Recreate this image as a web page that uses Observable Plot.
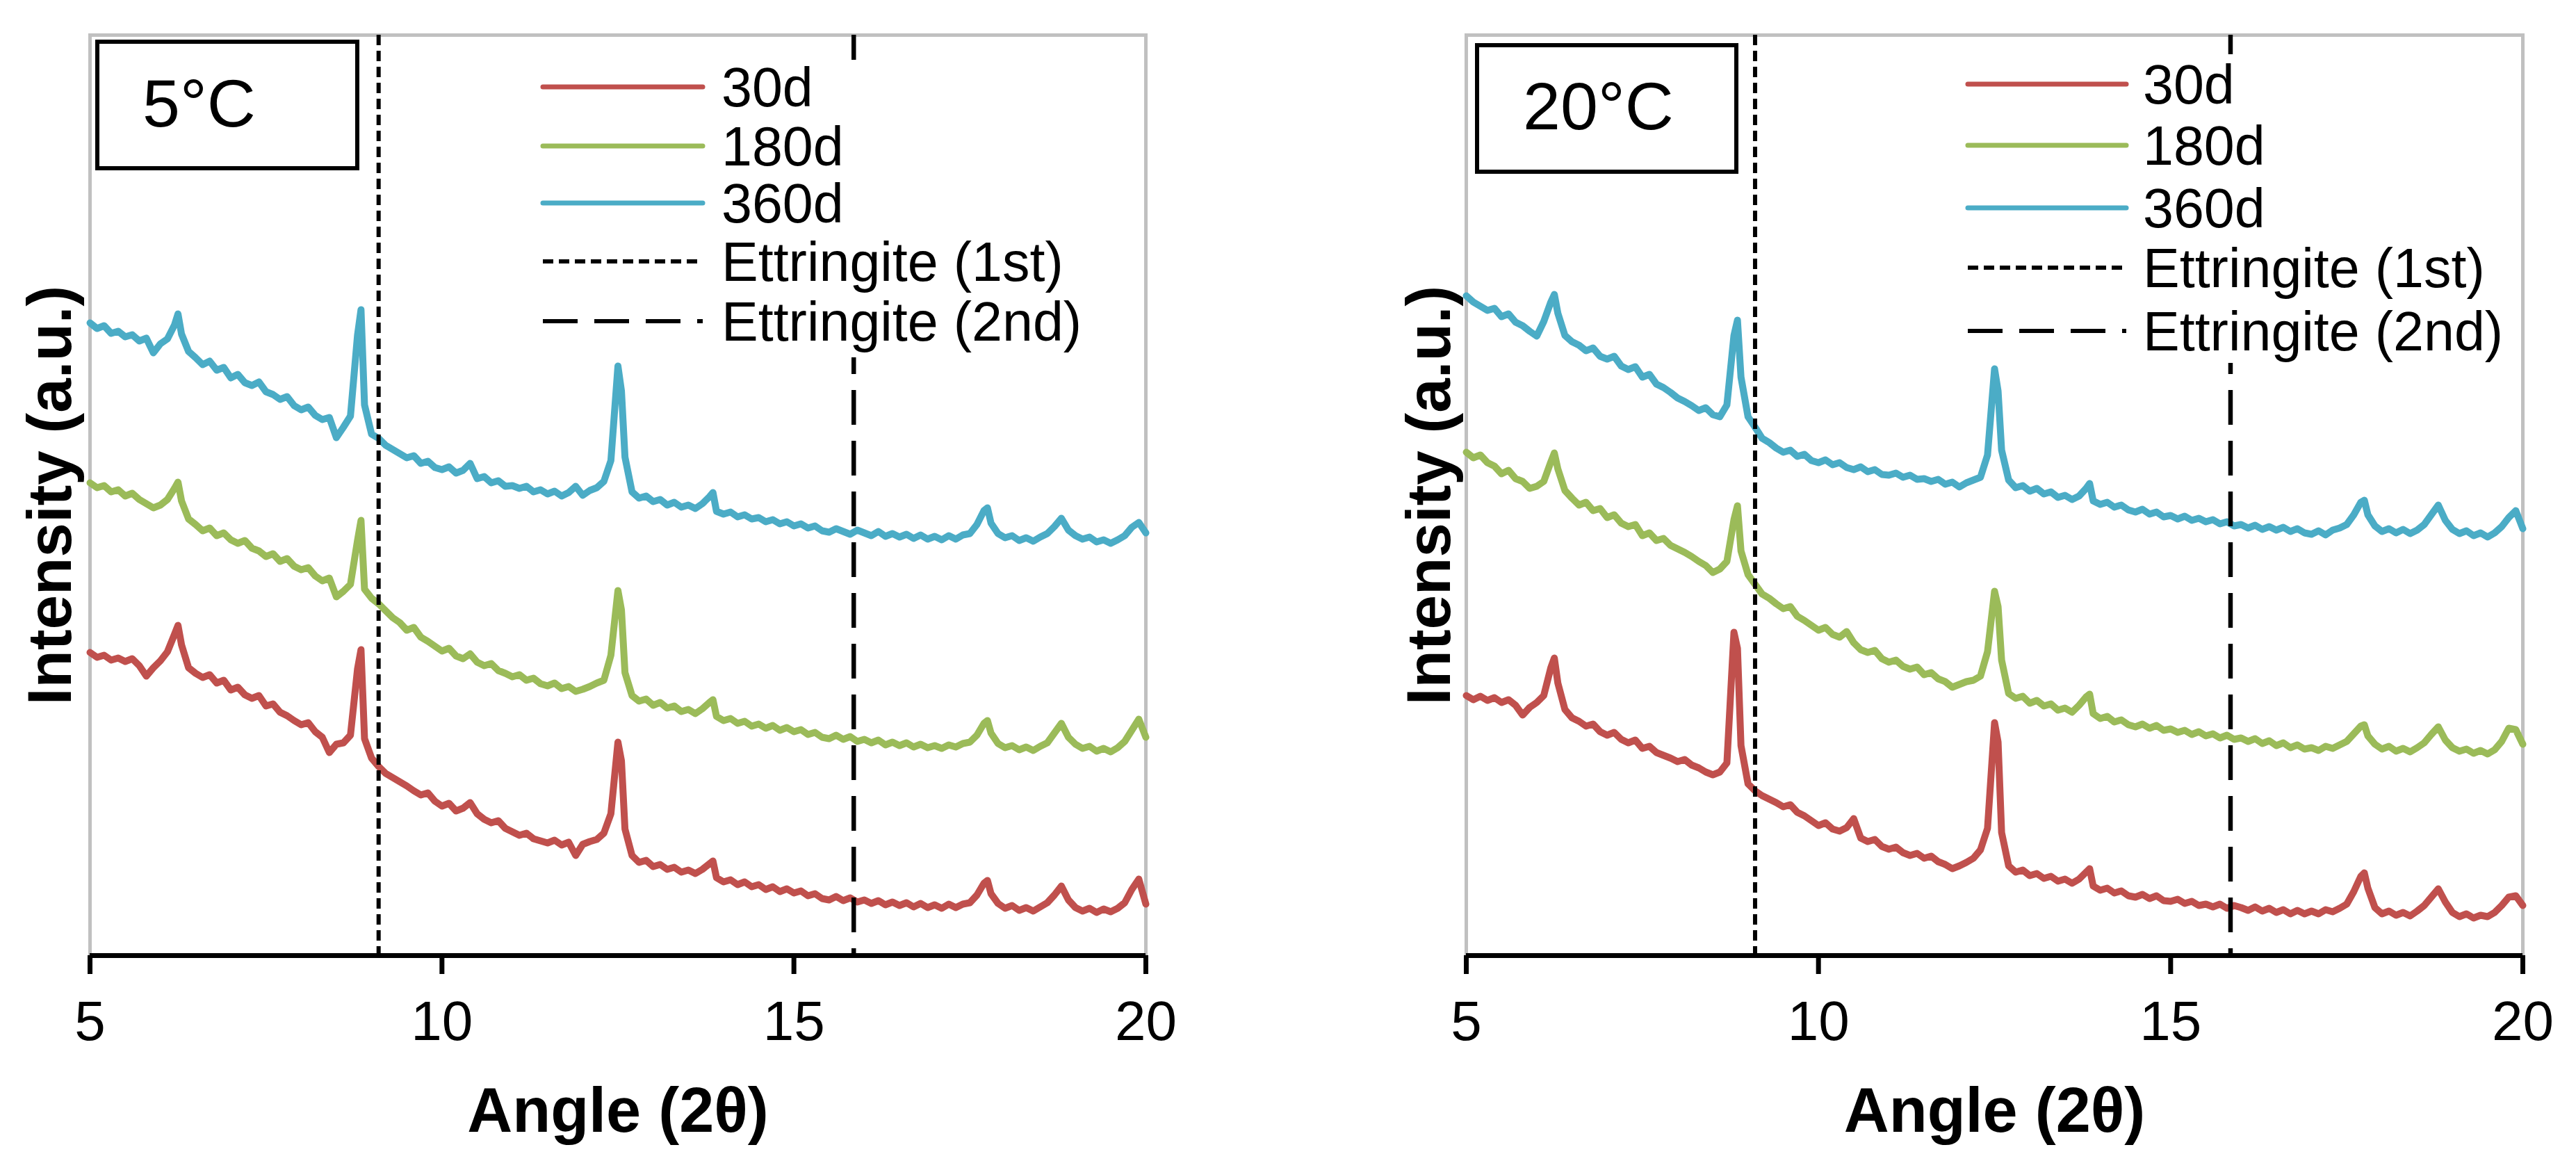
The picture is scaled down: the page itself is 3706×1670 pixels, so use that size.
<!DOCTYPE html>
<html><head><meta charset="utf-8">
<script src="https://cdn.jsdelivr.net/npm/d3@7"></script>
<script src="https://cdn.jsdelivr.net/npm/@observablehq/plot@0.6"></script>
<style>
html,body{margin:0;padding:0;background:#fff;}
#wrap{position:relative;width:3706px;height:1670px;overflow:hidden;font-family:"Liberation Sans",Arial,sans-serif;}
#wrap svg{position:absolute;top:0;}
</style></head><body><div id="wrap"></div>
<script>
// ---------- data ----------
const angle = [
5,5.1,5.2,5.3,5.4,5.5,5.6,5.7,5.8,5.9,
6,6.1,6.2,6.25,6.3,6.4,6.5,6.6,6.7,6.8,6.9,
7,7.1,7.2,7.3,7.4,7.5,7.6,7.7,7.8,7.9,
8,8.1,8.2,8.3,8.4,8.5,8.6,8.7,8.8,8.85,8.9,
9,9.1,9.2,9.3,9.4,9.5,9.6,9.7,9.8,9.9,
10,10.1,10.2,10.3,10.4,10.5,10.6,10.7,10.8,10.9,
11,11.1,11.2,11.3,11.4,11.5,11.6,11.7,11.8,11.9,
12,12.1,12.2,12.3,12.4,12.5,12.55,12.6,12.7,12.8,12.9,
13,13.1,13.2,13.3,13.4,13.5,13.6,13.7,13.8,13.85,13.9,
14,14.1,14.2,14.3,14.4,14.5,14.6,14.7,14.8,14.9,
15,15.1,15.2,15.3,15.4,15.5,15.6,15.7,15.8,15.9,
16,16.1,16.2,16.3,16.4,16.5,16.6,16.7,16.8,16.9,
17,17.1,17.2,17.3,17.4,17.5,17.6,17.7,17.75,17.8,17.9,
18,18.1,18.2,18.3,18.4,18.5,18.6,18.7,18.8,18.9,
19,19.1,19.2,19.3,19.4,19.5,19.6,19.7,19.8,19.9,
20];

const seriesNames = ["30d", "180d", "360d"];
const seriesColors = ["#c0504d", "#9bbb59", "#4bacc6"];
const refNames = ["Ettringite (1st)", "Ettringite (2nd)"];
const refAngles = [9.1, 15.85];
const xTicks = [5, 10, 15, 20];
const xTitle = "Angle (2θ)";
const yTitle = "Intensity (a.u.)";
const panelTitles = ["5°C", "20°C"];

// 5°C panel
const t5_30d = [
436,429,432,425,428,423,427,417,402,414,
424,437,462,475,447,414,406,400,404,392,396,
382,386,375,370,374,359,362,350,345,338,
332,335,322,314,292,304,306,317,412,440,312,
284,272,262,256,250,244,237,231,234,222,
215,219,208,212,220,204,196,191,194,183,
178,173,176,168,165,162,166,159,163,144,
160,164,167,176,204,307,280,182,144,134,137,
128,131,124,127,120,123,118,124,132,136,112,
106,109,102,106,99,102,95,99,92,96,
90,93,86,89,82,80,85,79,83,77,
80,75,79,73,77,72,76,70,75,69,
73,68,74,69,74,76,87,104,108,89,75,
68,72,65,69,64,70,76,87,100,80,
69,64,68,62,67,63,68,76,95,110,
74];
const t5_180d = [
680,673,676,667,670,661,665,656,650,644,
648,656,672,681,654,628,620,611,615,604,608,
598,593,597,586,582,574,578,567,571,560,
555,558,546,539,543,516,524,534,597,626,527,
514,506,496,486,479,468,472,458,452,445,
438,442,431,427,434,422,417,420,410,406,
401,404,396,399,391,388,392,384,387,380,
383,387,392,396,432,525,497,407,374,366,369,
360,364,356,359,351,354,348,355,364,368,344,
338,341,334,337,330,333,327,331,324,328,
322,325,318,321,314,312,317,311,315,308,
311,306,310,303,307,302,306,300,304,299,
302,298,303,300,305,307,317,334,338,320,305,
299,302,296,300,295,301,306,320,334,314,
304,298,301,294,298,293,299,308,324,340,
314];
const t5_360d = [
910,902,906,895,898,890,893,884,888,867,
880,887,907,923,894,869,860,850,855,842,846,
831,836,824,820,825,811,807,800,804,791,
785,789,777,771,774,745,760,776,892,929,792,
750,744,734,728,722,716,719,708,711,702,
699,703,694,698,708,686,689,680,683,675,
676,672,675,667,670,664,668,661,666,675,
662,669,673,682,712,848,812,717,667,658,661,
653,656,648,652,645,648,643,650,660,666,639,
635,638,631,634,628,630,624,627,621,624,
618,621,615,618,611,609,614,610,606,612,
608,604,610,603,607,602,606,600,605,599,
603,598,604,599,605,607,620,640,644,622,607,
601,604,597,601,596,602,607,617,629,612,
604,599,602,595,598,593,598,604,616,623,
608];

// 20°C panel
const t20_30d = [
374,368,373,367,371,364,368,360,346,357,
364,374,414,428,392,354,342,337,330,333,322,
317,321,311,306,310,298,301,292,288,284,
279,282,274,270,264,260,264,277,465,442,302,
247,237,230,225,220,214,217,206,201,194,
187,191,182,179,184,197,169,164,167,157,
153,156,148,144,147,140,143,135,131,125,
129,134,140,152,183,335,307,177,129,120,123,
115,118,111,114,107,110,104,110,120,125,100,
94,97,90,93,86,84,88,82,86,79,
78,81,75,78,72,74,70,74,68,72,
69,65,70,64,68,62,66,60,65,60,
64,60,66,63,68,74,92,114,119,97,69,
60,64,58,62,57,64,72,84,96,77,
62,56,60,54,58,56,62,72,84,86,
72];
const t20_180d = [
724,716,720,709,704,693,698,686,682,672,
675,682,710,723,700,669,658,648,652,640,643,
630,634,622,617,620,604,608,597,600,590,
585,580,574,567,561,551,556,567,627,647,582,
548,534,520,514,506,499,502,488,482,475,
468,472,462,458,466,450,440,436,439,427,
422,425,416,412,415,404,407,398,394,386,
390,394,396,402,437,524,502,425,377,370,373,
363,367,359,362,353,356,350,360,372,376,348,
341,344,336,339,332,329,333,327,331,324,
326,321,324,318,322,316,319,313,317,311,
313,308,312,305,309,302,306,299,303,297,
299,295,301,298,303,308,319,330,332,316,304,
297,301,294,298,293,299,306,318,329,310,
299,294,297,291,295,290,296,308,327,325,
304];
const t20_360d = [
949,940,934,928,931,919,923,911,906,898,
891,912,940,951,924,892,883,878,870,874,862,
858,862,848,843,847,832,836,822,817,810,
802,797,791,784,788,778,775,792,892,914,832,
775,760,744,738,730,724,727,718,721,712,
709,713,706,709,702,699,703,696,699,692,
691,694,688,691,685,686,682,685,678,681,
674,680,684,688,720,844,812,727,684,673,676,
668,672,664,667,659,662,656,661,672,679,654,
649,652,645,648,641,638,642,635,638,631,
633,628,632,626,629,624,627,621,624,618,
620,615,619,613,617,612,616,610,614,608,
606,611,605,612,615,620,634,652,655,634,618,
610,614,608,613,607,612,620,634,648,626,
613,607,611,604,608,602,608,617,630,640,
614];

// ---------- drawing ----------
const FONT = '"Liberation Sans", Arial, sans-serif';
const wrap = document.getElementById("wrap");

function rowsFor(seriesList) {
  const rows = [];
  seriesList.forEach((vals, k) => {
    const n = Math.min(vals.length, angle.length);
    for (let i = 0; i < n; i++) rows.push({angle: angle[i], intensity: vals[i], age: seriesNames[k]});
  });
  return rows;
}

function panel(cfg) {
  const rows = rowsFor(cfg.series);
  const svg = Plot.plot({
    width: 1853, height: 1670,
    marginLeft: cfg.ml, marginRight: cfg.mr, marginTop: 50, marginBottom: 296,
    x: {domain: [5, 20]},
    y: {domain: [0, 1324], axis: null},
    color: {domain: seriesNames, range: seriesColors},
    style: {fontFamily: FONT, color: "black", background: "transparent", overflow: "visible"},
    marks: [
      Plot.frame({stroke: "#c0c0c0", strokeWidth: 5}),
      Plot.line(rows, {x: "angle", y: "intensity", z: "age", stroke: "age", strokeWidth: 10, strokeLinejoin: "round", strokeLinecap: "round"}),
      Plot.ruleX([refAngles[0]], {stroke: "black", strokeWidth: 6, strokeDasharray: "15,8"}),
      Plot.ruleX([refAngles[1]], {stroke: "black", strokeWidth: 6.5, strokeDasharray: "50,23"}),
      Plot.ruleY([0], {stroke: "black", strokeWidth: 7}),
      Plot.axisX({ticks: xTicks, tickSize: 27, tickPadding: 38, fontSize: 80, strokeWidth: 7, stroke: "black", fill: "black", label: null, tickFormat: d => String(d)}),
      Plot.text([xTitle], {text: d => d, frameAnchor: "bottom", lineAnchor: "middle", textAnchor: "middle", dy: 225, fontSize: 90, fontWeight: "bold", fill: "black"}),
      Plot.text([yTitle], {text: d => d, frameAnchor: "left", lineAnchor: "middle", textAnchor: "middle", dx: cfg.ydx, rotate: -90, fontSize: 89, fontWeight: "bold", fill: "black"})
    ]
  });
  svg.style.left = cfg.left + "px";
  wrap.appendChild(svg);
}

panel({series: [t5_30d, t5_180d, t5_360d], left: 0, ml: 129, mr: 205, ydx: -56});
panel({series: [t20_30d, t20_180d, t20_360d], left: 1853, ml: 256, mr: 77, ydx: -52});

// overlay: temperature boxes + legends
const ov = d3.select(wrap).append("svg")
  .attr("width", 3706).attr("height", 1670)
  .style("left", "0px").style("top", "0px")
  .attr("font-family", FONT);

const boxes = [
  {x0: 140, x1: 514, y0: 60, y1: 242, tx: 205, ty: 182},
  {x0: 2125, x1: 2498, y0: 65, y1: 247, tx: 2191, ty: 186}
];
boxes.forEach((b, i) => {
  ov.append("rect").attr("x", b.x0).attr("y", b.y0).attr("width", b.x1 - b.x0).attr("height", b.y1 - b.y0)
    .attr("fill", "white").attr("stroke", "black").attr("stroke-width", 6);
  ov.append("text").attr("x", b.tx).attr("y", b.ty).attr("font-size", 97).attr("fill", "black").text(panelTitles[i]);
});

const legends = [
  {bg: [765, 86, 825, 428], lx0: 781, lx1: 1011, tx: 1038, base: [153, 238, 320, 404, 490]},
  {bg: [2815, 78, 808, 444], lx0: 2831, lx1: 3059, tx: 3083, base: [149, 237, 327, 413, 504]}
];
legends.forEach(L => {
  ov.append("rect").attr("x", L.bg[0]).attr("y", L.bg[1]).attr("width", L.bg[2]).attr("height", L.bg[3]).attr("fill", "white");
  const items = seriesNames.map((n, k) => ({label: n, color: seriesColors[k], w: 7, dash: null, cap: "round"}))
    .concat([{label: refNames[0], color: "black", w: 6, dash: "15,8", cap: "butt"}, {label: refNames[1], color: "black", w: 6, dash: "50,24", cap: "butt"}]);
  items.forEach((it, k) => {
    const cy = L.base[k] - 28;
    const ln = ov.append("line").attr("x1", L.lx0).attr("x2", L.lx1).attr("y1", cy).attr("y2", cy)
      .attr("stroke", it.color).attr("stroke-width", it.w).attr("stroke-linecap", it.cap);
    if (it.dash) ln.attr("stroke-dasharray", it.dash);
    ov.append("text").attr("x", L.tx).attr("y", L.base[k]).attr("font-size", 79).attr("fill", "black").text(it.label);
  });
});
</script>
</body></html>
